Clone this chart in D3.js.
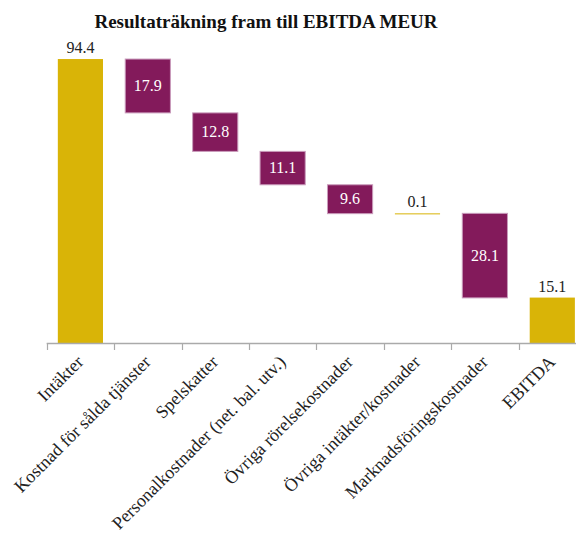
<!DOCTYPE html>
<html>
<head>
<meta charset="utf-8">
<script src="https://cdn.jsdelivr.net/npm/d3@7"></script>
<style>
  body { margin: 0; background: #fff; }
  svg { display: block; font-family: "Liberation Serif", "DejaVu Serif", serif; }
</style>
</head>
<body>
<svg id="chart" width="576" height="534"></svg>
<script>
///////////////////////////////////////////////////////////
// Data
const categories = [
  "Intäkter",
  "Kostnad för sålda tjänster",
  "Spelskatter",
  "Personalkostnader (net. bal. utv.)",
  "Övriga rörelsekostnader",
  "Övriga intäkter/kostnader",
  "Marknadsföringskostnader",
  "EBITDA"
];
const values = [94.4, -17.9, -12.8, -11.1, -9.6, 0.1, -28.1, 15.1];
const isTotal = [true, false, false, false, false, false, false, true];
const valueLabels = ["94.4", "17.9", "12.8", "11.1", "9.6", "0.1", "28.1", "15.1"];

///////////////////////////////////////////////////////////
// Build waterfall steps
let running = 0;
const steps = categories.map(function (c, i) {
  let start, end;
  if (isTotal[i]) {
    start = 0;
    end = values[i];
    running = values[i];
  } else {
    start = running;
    end = running + values[i];
    running = end;
  }
  return { name: c, start: start, end: end, value: values[i], label: valueLabels[i], total: isTotal[i] };
});

const svg = d3.select("#chart");

const x = d3.scaleBand()
  .domain(categories)
  .range([46.7, 586])
  .paddingInner(0.33)
  .paddingOuter(0.165);

const y = d3.scaleLinear()
  .domain([0, 100])
  .range([343, 42.2]);

const purple = "#831a5b";
const yellow = "#d9b407";

///////////////////////////////////////////////////////////
// Title
svg.append("text")
  .attr("x", 266)
  .attr("y", 28)
  .attr("text-anchor", "middle")
  .attr("font-weight", "bold")
  .attr("font-size", 19)
  .attr("fill", "#111")
  .text("Resultaträkning fram till EBITDA MEUR");

///////////////////////////////////////////////////////////
// Bars
const bars = svg.append("g");

steps.forEach(function (d) {
  const top = y(Math.max(d.start, d.end));
  const bottom = y(Math.min(d.start, d.end));
  const h = bottom - top;
  if (d.value < 0) {
    bars.append("rect")
      .attr("x", x(d.name))
      .attr("y", top)
      .attr("width", x.bandwidth())
      .attr("height", h)
      .attr("fill", purple)
      .attr("stroke", "#c99bbb")
      .attr("stroke-width", 1);
    bars.append("text")
      .attr("x", x(d.name) + x.bandwidth() / 2)
      .attr("y", top + h / 2 + 5)
      .attr("text-anchor", "middle")
      .attr("font-size", 16)
      .attr("fill", "#fff")
      .text(d.label);
  } else {
    bars.append("rect")
      .attr("x", x(d.name))
      .attr("y", top)
      .attr("width", x.bandwidth())
      .attr("height", Math.max(h, 1))
      .attr("fill", yellow);
    bars.append("text")
      .attr("x", x(d.name) + x.bandwidth() / 2)
      .attr("y", top - 6)
      .attr("text-anchor", "middle")
      .attr("font-size", 16)
      .attr("fill", "#222")
      .text(d.label);
  }
});

///////////////////////////////////////////////////////////
// Axis
const step = x.step();
const edges = categories.map(function (c) { return x(c) - x.paddingInner() * step / 2; });

svg.append("line")
  .attr("x1", edges[0]).attr("x2", 576)
  .attr("y1", 343.5).attr("y2", 343.5)
  .attr("stroke", "#aaa")
  .attr("stroke-width", 1.5);

svg.selectAll(".tick")
  .data(edges)
  .enter().append("line")
  .attr("class", "tick")
  .attr("x1", d => Math.round(d) + 0.5).attr("x2", d => Math.round(d) + 0.5)
  .attr("y1", 343).attr("y2", 350)
  .attr("stroke", "#aaa")
  .attr("stroke-width", 1.2);

svg.selectAll(".xlabel")
  .data(categories)
  .enter().append("text")
  .attr("class", "xlabel")
  .attr("text-anchor", "end")
  .attr("font-size", 18)
  .attr("fill", "#222")
  .attr("transform", d => `translate(${x(d) + x.bandwidth() / 2 + 4},${363}) rotate(-45)`)
  .text(d => d);
</script>
</body>
</html>
